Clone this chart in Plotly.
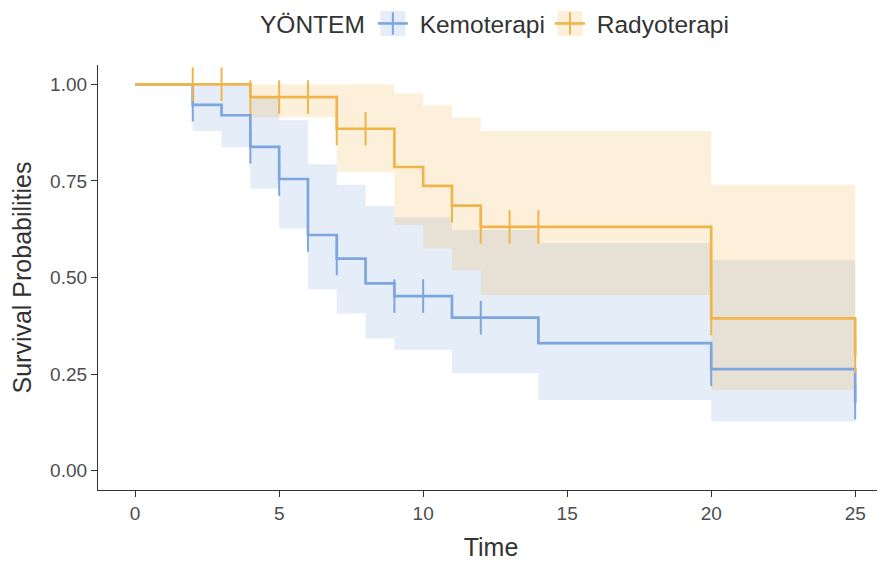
import plotly.graph_objects as go

# ---- data ----
groups = ["Kemoterapi", "Radyoterapi"]

time_kemo = [0, 2, 3, 4, 5, 6, 7, 8, 9, 11, 14, 20, 25]
surv_kemo = [1.0, 0.947, 0.920, 0.838, 0.755, 0.610, 0.549, 0.485, 0.452, 0.396, 0.330, 0.263, 0.176]
upper_kemo = [1.0, 1.0, 1.0, 0.967, 0.907, 0.793, 0.740, 0.686, 0.656, 0.623, 0.589, 0.545, 0.545]
lower_kemo = [1.0, 0.879, 0.837, 0.730, 0.627, 0.469, 0.407, 0.342, 0.313, 0.252, 0.183, 0.127, 0.127]
censor_t_kemo = [2, 4, 5, 6, 7, 9, 10, 12, 20, 25]
censor_s_kemo = [0.947, 0.838, 0.755, 0.610, 0.549, 0.452, 0.452, 0.396, 0.263, 0.176]

time_radyo = [0, 4, 7, 9, 10, 11, 12, 20, 25]
surv_radyo = [1.0, 0.967, 0.885, 0.786, 0.737, 0.686, 0.631, 0.394, 0.297]
upper_radyo = [1.0, 1.0, 1.0, 0.976, 0.946, 0.914, 0.879, 0.740, 0.740]
lower_radyo = [1.0, 0.915, 0.773, 0.636, 0.575, 0.519, 0.455, 0.209, 0.209]
censor_t_radyo = [2, 3, 4, 5, 6, 7, 8, 11, 12, 13, 14, 20, 25]
censor_s_radyo = [1.0, 1.0, 0.967, 0.967, 0.967, 0.885, 0.885, 0.686, 0.631, 0.631, 0.631, 0.394, 0.297]

x_ticks = [0, 5, 10, 15, 20, 25]
y_ticks = [0.0, 0.25, 0.5, 0.75, 1.0]
y_ticktext = ["0.00", "0.25", "0.50", "0.75", "1.00"]

line_colors = {"Kemoterapi": "#7DA5DE", "Radyoterapi": "#EFB54B"}
band_colors = {"Kemoterapi": "rgba(125,165,222,0.2)", "Radyoterapi": "rgba(239,181,75,0.2)"}

data = {
    "Kemoterapi": (time_kemo, surv_kemo, upper_kemo, lower_kemo, censor_t_kemo, censor_s_kemo),
    "Radyoterapi": (time_radyo, surv_radyo, upper_radyo, lower_radyo, censor_t_radyo, censor_s_radyo),
}

fig = go.Figure()

# confidence bands
for g in groups:
    t, s, up, lo, ct, cs = data[g]
    fig.add_trace(go.Scatter(x=t, y=up, mode="lines", line=dict(width=0, shape="hv"),
                             showlegend=False, hoverinfo="skip"))
    fig.add_trace(go.Scatter(x=t, y=lo, mode="lines", line=dict(width=0, shape="hv"),
                             fill="tonexty", fillcolor=band_colors[g],
                             showlegend=False, hoverinfo="skip"))

# survival curves
for g in groups:
    t, s, up, lo, ct, cs = data[g]
    fig.add_trace(go.Scatter(x=t, y=s, mode="lines", name=g,
                             line=dict(color=line_colors[g], width=2.7, shape="hv"),
                             showlegend=False))

# censor marks
for g in groups:
    t, s, up, lo, ct, cs = data[g]
    fig.add_trace(go.Scatter(x=ct, y=cs, mode="markers", showlegend=False,
                             marker=dict(symbol="line-ns", size=24,
                                         line=dict(color=line_colors[g], width=2))))

# legend entries
for g in groups:
    fig.add_trace(go.Scatter(x=[None], y=[None], mode="lines+markers", name="\u00a0" + g,
                             line=dict(color=line_colors[g], width=2.6),
                             marker=dict(symbol="line-ns", size=24,
                                         line=dict(color=line_colors[g], width=2))))

# light boxes behind the legend keys (paper coordinates)
key_boxes = [(0.3594, 0.3912, "Kemoterapi"), (0.5846, 0.6164, "Radyoterapi")]
for x0, x1, g in key_boxes:
    fig.add_shape(type="rect", xref="paper", yref="paper", x0=x0, x1=x1, y0=1.0682, y1=1.1271,
                  fillcolor=band_colors[g], line=dict(width=0), layer="above")

font_family = "Liberation Sans, Arial, sans-serif"

fig.update_layout(
    width=885, height=569,
    margin=dict(l=90, r=9, t=57, b=87, autoexpand=False),
    paper_bgcolor="white", plot_bgcolor="white",
    font=dict(family=font_family, color="#333333"),
    showlegend=True,
    legend=dict(
        orientation="h", traceorder="normal",
        x=0.2036, xanchor="left", y=1.0976, yanchor="middle",
        title=dict(text="YÖNTEM", font=dict(size=24.5, color="#333333")),
        font=dict(size=24.5, color="#333333"),
        bgcolor="rgba(0,0,0,0)",
    ),
    xaxis=dict(
        range=[-1.29, 26.0], tickmode="array", tickvals=x_ticks, automargin=False,
        showgrid=False, zeroline=False, showline=True, linecolor="#333333", linewidth=1.2,
        ticks="outside", ticklen=6, tickwidth=1.2, tickcolor="#333333",
        tickfont=dict(size=19, color="#4D4D4D"),
        title=dict(text="Time", font=dict(size=25, color="#333333"), standoff=15),
    ),
    yaxis=dict(
        range=[-0.05, 1.05], tickmode="array", tickvals=y_ticks, ticktext=y_ticktext, automargin=False,
        showgrid=False, zeroline=False, showline=True, linecolor="#333333", linewidth=1.2,
        ticks="outside", ticklen=6, tickwidth=1.2, tickcolor="#333333",
        tickfont=dict(size=19, color="#4D4D4D"),
        title=dict(text="Survival Probabilities", font=dict(size=25, color="#333333"), standoff=12),
    ),
)

fig.write_html("out.html")
